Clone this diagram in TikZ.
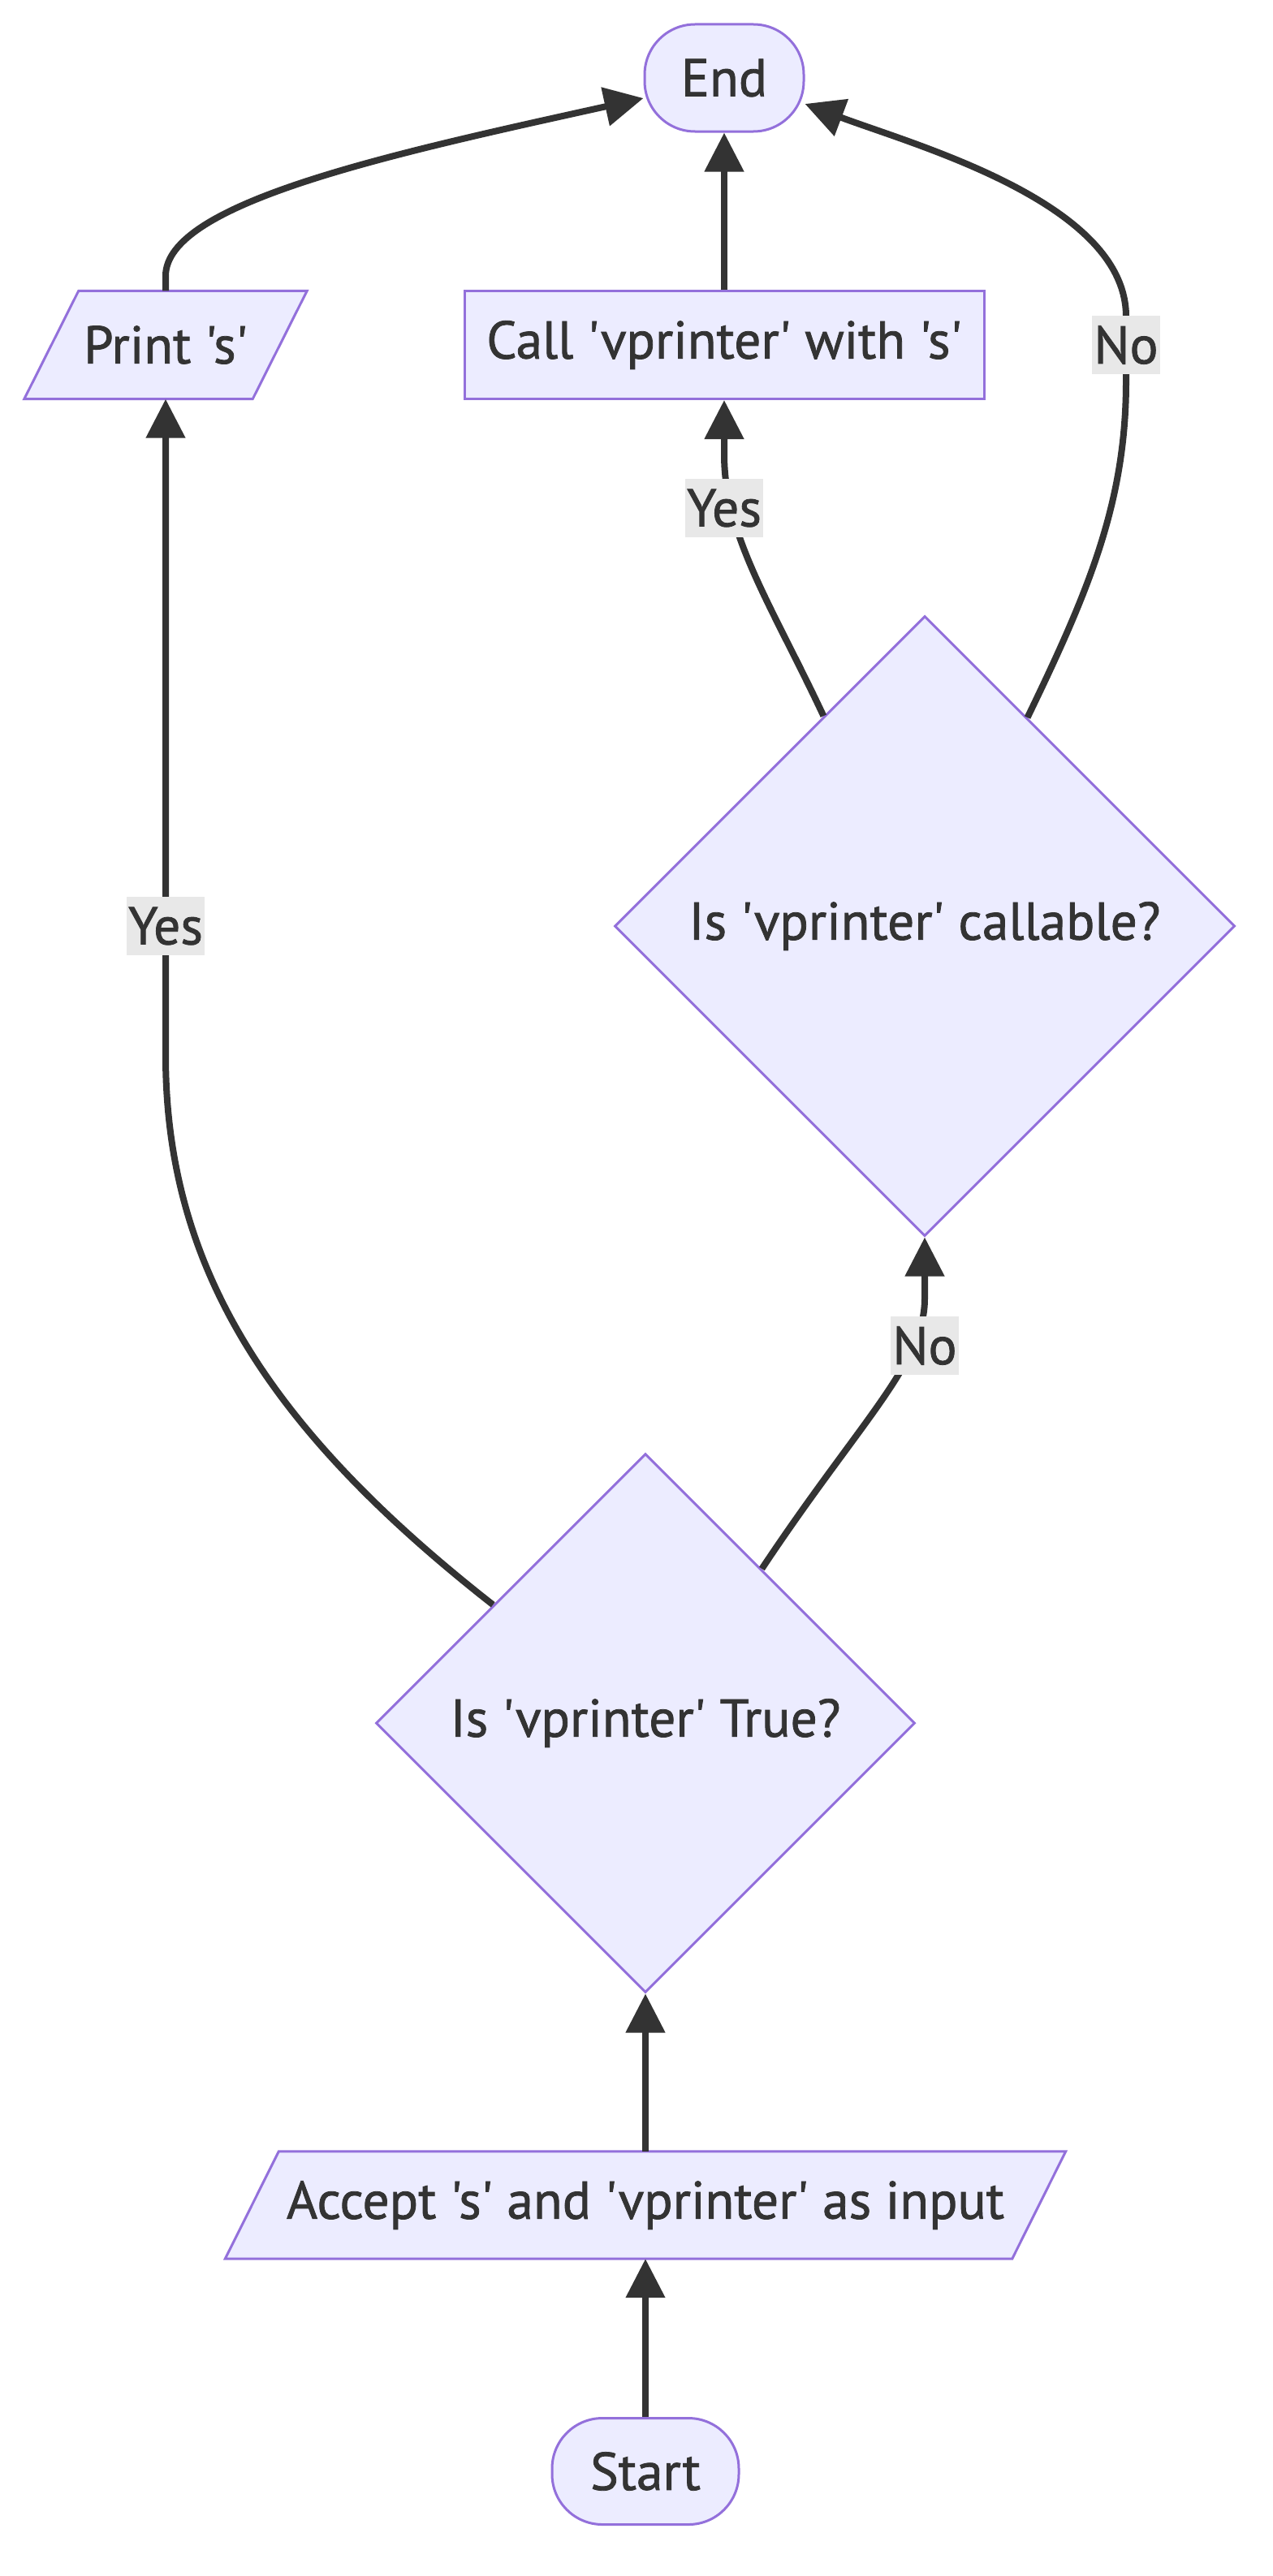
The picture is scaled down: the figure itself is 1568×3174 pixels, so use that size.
\documentclass[tikz,border=0pt]{standalone}
\usepackage{fontspec}
\newfontfamily\dfont{PT Sans}[FakeBold=1.2]
\usetikzlibrary{arrows.meta,shapes.geometric,calc,backgrounds}
\definecolor{nfill}{HTML}{ECECFF}
\definecolor{nline}{HTML}{9370DB}
\definecolor{ink}{HTML}{333333}
\definecolor{lblbg}{HTML}{E8E8E8}
\tikzset{
  every node/.style={font=\dfont\fontsize{65.5}{78}\selectfont, text=ink},
  term/.style={draw=nline, fill=nfill, line width=3pt, rounded corners=62pt, minimum width=196pt, minimum height=132pt, inner sep=0pt},
  proc/.style={draw=nline, fill=nfill, line width=3pt, minimum width=640pt, minimum height=133pt, inner sep=0pt},
  iotext/.style={minimum width=281pt, minimum height=133pt, inner sep=0pt},
  iobox/.style={draw=nline, fill=nfill, line width=3pt},
  dec/.style={diamond, aspect=1, draw=nline, fill=nfill, line width=3pt, inner sep=0pt},
  flow/.style={draw=ink, line width=8pt, -{Triangle[length=48pt,width=47pt]}},
  lbl/.style={fill=lblbg, inner xsep=2pt, inner ysep=0pt, minimum height=72pt}
}
\begin{document}
\begin{tikzpicture}[x=1pt,y=-1pt]
\useasboundingbox (0,0) rectangle (1568,3174);

% nodes
\node[term] (endn) at (892,96) {End};
\node[proc] (call) at (892,425) {Call 'vprinter' with 's'};
\node[iotext] (prt) at (204,425) {Print 's'};
\node[dec, minimum width=764pt, minimum height=764pt] (cal) at (1139,1141) {Is 'vprinter' callable?};
\node[dec, minimum width=664pt, minimum height=664pt] (tru) at (795,2123) {Is 'vprinter' True?};
\node[iotext, minimum width=969pt, minimum height=132pt] (acc) at (795,2717) {Accept 's' and 'vprinter' as input};
\node[term, minimum width=230pt, minimum height=131pt] (st) at (795,3045) {Start};

\begin{scope}[on background layer]
\fill[white] (0,0) rectangle (1568,3174);
\draw[iobox] ([xshift=-33.5pt]prt.south west) -- ([xshift=-33.5pt]prt.south east)
  -- ([xshift=33.5pt]prt.north east) -- ([xshift=33.5pt]prt.north west) -- cycle;
\draw[iobox] ([xshift=-33pt]acc.south west) -- ([xshift=-33pt]acc.south east)
  -- ([xshift=33pt]acc.north east) -- ([xshift=33pt]acc.north west) -- cycle;
\end{scope}

% connectors
\draw[flow] (st) -- (acc);
\draw[flow] (acc) -- (tru);
\draw[flow] ($(tru.north)!0.563!(tru.west)$) .. controls (330,1760) and (204,1560) .. (204,1300) -- (prt.south);
\draw[flow] ($(tru.north)!0.43!(tru.east)$) .. controls (1060,1750) and (1139,1680) .. (1139,1600) -- (cal.south);
\draw[flow] ($(cal.north)!0.325!(cal.west)$) .. controls (950,745) and (892,660) .. (892,560) -- (call.south);
\draw[flow] ($(cal.north)!0.33!(cal.east)$) .. controls (1340,730) and (1387,620) .. (1387,470)
  -- (1387,390) .. controls (1387,250) and (1127,179) .. ($(endn.east)+(0,32)$);
\draw[flow] (call) -- (endn);
\draw[flow] (prt.north) -- (204,340) .. controls (204,250) and (480,190) .. ($(endn.west)+(0,25)$);

% labels
\node[lbl] (l1) at (204,1141) {Yes};
\node[lbl] (l2) at (1139,1658) {No};
\node[lbl] (l3) at (892,626) {Yes};
\node[lbl] (l4) at (1387,425) {No};
\end{tikzpicture}
\end{document}
